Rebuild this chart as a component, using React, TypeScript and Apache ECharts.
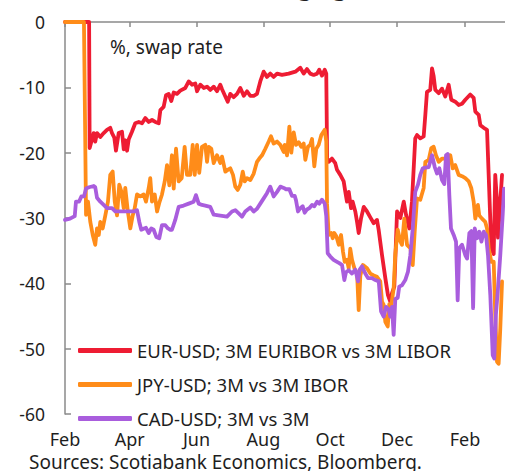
import React, { useEffect, useRef } from "react";
import * as echarts from "echarts";

// x = days since 1 Feb; y = % swap rate
const tickDays = [0, 59, 120, 181, 242, 303, 365];
const tickLabels = ["Feb", "Apr", "Jun", "Aug", "Oct", "Dec", "Feb"];

const seriesNames = [
  "EUR-USD; 3M EURIBOR vs 3M LIBOR",
  "JPY-USD; 3M vs 3M IBOR",
  "CAD-USD; 3M vs 3M",
];

const eurUsd = [
  [0, 0], [22, 0], [22.5, -19.3], [26.2, -17.0], [27.6, -18.3], [29.2, -17.0], [32.2, -17.6], [35.3, -17.0],
  [38.3, -16.5], [41.3, -16.2], [42.9, -17.0], [45, -17.7], [46.5, -19.7], [49, -17.0], [52, -16.8],
  [53.6, -19.5], [55, -18.1], [56.6, -19.7], [58.1, -18.0], [61.1, -16.8], [64.1, -15.5], [67.3, -15.3],
  [70.3, -15.5], [73.3, -14.7], [76.4, -15.3], [79.4, -15.0], [82.4, -15.3], [85.5, -15.5], [87, -13.5],
  [90, -13.0], [92.2, -11.2], [94.6, -11.0], [97, -12.1], [99.2, -10.8], [102.2, -11.0], [105.2, -10.5],
  [109.8, -10.1], [112.9, -9.1], [115.9, -9.6], [118.9, -9.4], [120.5, -10.6], [123.5, -9.6], [126.6, -10.1],
  [129.6, -9.9], [132.6, -10.4], [135.7, -9.9], [138.7, -10.6], [141.7, -9.6], [143.3, -10.3], [146.3, -11.4],
  [148.5, -12.2], [150.8, -11.0], [153.9, -11.5], [157, -11.0], [160, -10.1], [163.1, -11.3], [166.1, -10.6],
  [169.1, -11.3], [172.2, -11.3], [175.2, -11.0], [178.2, -9.1], [181.3, -7.6], [184.3, -8.4], [187.3, -7.9],
  [190.4, -8.4], [193.5, -7.9], [198, -8.1], [204.1, -7.9], [210.2, -7.6], [214.7, -7.0], [217.8, -7.9],
  [220.8, -7.2], [223.8, -7.9], [226.9, -8.1], [230, -7.9], [232, -7.3], [234.5, -8.2], [237, -7.3],
  [238.4, -7.9], [239.2, -20.9], [240.6, -21.4], [243.6, -20.9], [246.6, -21.6], [248.2, -22.6], [251.2, -23.4],
  [254.3, -24.4], [255.8, -26.0], [257.3, -27.5], [258.9, -26.0], [261, -28.5], [262.5, -27.5], [264.9, -29.0],
  [266.5, -30.6], [268, -32.3], [270.1, -30.1], [272.6, -28.3], [275.6, -29.0], [278.6, -29.9], [281.7, -30.8],
  [284.7, -30.3], [286.3, -31.9], [289.3, -35.7], [292.3, -39.2], [294.7, -41.8], [296.8, -42.8], [298.4, -41.5],
  [300.5, -40.5], [303, -29.0], [306, -30.0], [309.1, -27.5], [311.2, -29.5], [314.2, -31.6], [316.6, -27.5],
  [319.6, -17.8], [321.2, -17.3], [324.2, -17.8], [327.3, -17.5], [328.8, -14.2], [330.3, -10.7], [333.3, -10.4],
  [334.9, -7.1], [336.4, -8.3], [337.9, -10.4], [341, -10.9], [344, -10.2], [347, -11.4], [350.1, -9.6],
  [352.5, -11.9], [356.1, -12.2], [359.2, -12.7], [362.3, -12.5], [365.3, -11.9], [369.8, -11.1], [372.9, -11.6],
  [374.4, -13.7], [377.5, -14.2], [379, -15.8], [382.1, -16.2], [385.1, -16.5], [386.6, -23.4], [389, -34.6],
  [391.2, -35.5], [392.6, -23.4], [394.2, -27.5], [395.1, -33.0], [397.2, -27.5], [398.8, -23.4],
];

const jpyUsd = [
  [0, 0], [17.3, 0], [19.2, -29.5], [21, -27.5], [23.1, -30.6], [25.3, -32.6], [27.6, -34.1], [29.2, -31.6],
  [30.8, -32.6], [32.2, -30.6], [34.4, -31.6], [36.8, -29.6], [39.2, -27.5], [41.3, -23.4], [43.5, -22.9],
  [45.4, -27.5], [47.5, -29.6], [49.5, -24.9], [51.4, -25.9], [53.6, -28.5], [55, -25.4], [57.2, -28.8],
  [59.6, -31.6], [61.8, -29.6], [63.6, -28.5], [65.7, -26.4], [68.7, -26.7], [71.8, -26.4], [73.9, -27.5],
  [76.4, -25.4], [77.8, -23.9], [79.4, -27.5], [81.9, -26.4], [84, -29.0], [86, -27.7], [88.5, -26.4],
  [91, -24.4], [93.1, -21.9], [95.2, -25.0], [97.6, -20.4], [99.2, -25.5], [101.3, -19.4], [103.7, -24.4],
  [106.5, -23.9], [109.2, -19.1], [111.3, -23.4], [114.3, -23.4], [116.5, -18.8], [118.4, -23.4], [120.5, -18.8],
  [122.5, -23.1], [125, -19.1], [128, -18.8], [129.6, -21.4], [131.1, -19.1], [133.5, -19.4], [135.7, -21.6],
  [138.7, -20.4], [141.7, -21.6], [143.3, -20.6], [146.3, -22.9], [148.8, -22.6], [150.8, -22.4], [153.3, -23.4],
  [155.4, -25.2], [157.6, -25.7], [160, -24.9], [162.2, -22.9], [164, -24.4], [166.1, -23.9], [169.1, -24.2],
  [172.2, -23.2], [175.2, -21.4], [177.3, -20.9], [179.8, -20.4], [182.8, -19.4], [185.9, -18.3], [188, -17.5],
  [190.4, -18.6], [193.5, -18.3], [196.5, -18.8], [199.6, -19.9], [200.5, -18.8], [202.6, -20.4], [204.7, -16.0],
  [206.5, -20.0], [208.7, -16.9], [210.8, -18.8], [213.3, -18.4], [215.6, -19.1], [217.8, -18.6], [219.3, -21.1],
  [221.7, -19.1], [223.8, -18.8], [225.4, -17.9], [227.5, -22.1], [229.3, -19.4], [231.5, -18.8], [233.9, -17.3],
  [237, -16.5], [238.4, -18.3], [239.1, -27.8], [240.6, -32.6], [243, -32.3], [244.3, -33.1], [245.7, -32.3],
  [247.6, -32.8], [249.8, -34.1], [251.9, -32.6], [253.7, -35.2], [255.2, -36.7], [257.3, -36.4], [258.9, -37.7],
  [260.3, -34.7], [261.9, -36.4], [264.4, -37.9], [266.5, -38.4], [268, -44.1], [269.5, -38.8], [271.9, -37.2],
  [275.6, -37.7], [278.6, -38.5], [281.7, -38.8], [284.7, -39.0], [287.7, -39.7], [289.3, -42.8], [290.8, -43.3],
  [292.3, -45.9], [294.5, -46.6], [295.9, -43.2], [297.8, -43.3], [299.9, -40.8], [301.4, -35.5], [303.6, -31.8],
  [306, -33.6], [307.5, -34.1], [309.6, -30.1], [312.1, -34.1], [315.1, -34.6], [317.3, -37.2], [319.1, -32.1],
  [321.2, -27.0], [324.2, -27.2], [327.3, -25.4], [328.8, -21.4], [331.9, -21.1], [334.2, -19.3], [336.4, -19.1],
  [338.5, -20.4], [341, -21.4], [344, -20.9], [347, -20.9], [349.4, -21.6], [351.6, -20.4], [353.8, -22.4],
  [356.1, -21.9], [359.2, -23.4], [362.3, -23.6], [365.3, -23.9], [368.4, -24.4], [370.7, -25.4], [372.9, -27.5],
  [374.4, -30.1], [376.8, -28.0], [378, -29.6], [380.5, -30.1], [383.5, -30.6], [385.1, -31.6], [386.6, -34.6],
  [389, -36.7], [391.2, -36.7], [392.6, -44.8], [394.2, -52.0], [395.7, -52.3], [397.2, -46.9], [398.8, -39.7],
];

const cadUsd = [
  [0, -30.3], [4.6, -30.1], [8.9, -29.7], [10, -27.5], [12.8, -27.5], [14.9, -26.7], [17.3, -26.7], [19.2, -25.5],
  [21.9, -25.3], [26.2, -25.1], [27.6, -25.3], [29.2, -26.9], [32.2, -27.5], [35.3, -28.0], [38.3, -28.5],
  [42.9, -28.5], [45.9, -29.0], [50.2, -29.0], [54.8, -29.0], [59.6, -29.0], [63, -29.0], [65.7, -28.8],
  [67.8, -30.6], [69.6, -31.8], [72.1, -31.6], [73.9, -31.5], [76.4, -32.3], [78.7, -31.6], [80.9, -31.8],
  [83.3, -32.9], [86, -33.1], [88.5, -31.1], [91.5, -31.1], [94, -31.6], [96.1, -31.8], [97.6, -31.8],
  [100.6, -30.3], [103.7, -28.3], [108.3, -28.1], [112.9, -27.8], [117.4, -27.5], [119.5, -26.5], [122, -27.8],
  [125, -28.0], [128, -28.1], [132.6, -28.3], [135.7, -29.5], [140.2, -29.6], [144.8, -29.7], [147.8, -29.8],
  [152.4, -29.0], [155.4, -28.8], [158.5, -29.3], [161.5, -29.8], [164.5, -29.0], [169.1, -28.4], [172.2, -29.0],
  [175.2, -28.6], [178.2, -27.8], [181.3, -27.0], [184.3, -26.2], [187.3, -25.2], [190.4, -26.7], [193.5, -26.0],
  [196.5, -25.2], [199.6, -25.4], [201.7, -25.6], [204.7, -25.6], [207.1, -26.6], [209.6, -26.6], [210.8, -27.3],
  [212.6, -29.0], [214.7, -28.5], [216.9, -28.2], [218.7, -29.2], [220.8, -28.7], [222.9, -28.5], [225.4, -28.0],
  [227.5, -28.2], [230, -27.5], [232, -27.8], [234.5, -27.2], [237, -27.8], [238.4, -29.7], [239.7, -35.4],
  [242.1, -35.9], [245.1, -36.4], [248.2, -36.7], [250.3, -36.9], [252.8, -37.2], [254.9, -39.5], [256.4, -38.3],
  [258.9, -38.0], [261.9, -38.5], [264.9, -37.9], [267.4, -39.7], [268.9, -37.9], [271, -37.4], [274, -38.5],
  [276.5, -39.2], [280.1, -39.2], [283.2, -39.5], [286.3, -39.7], [288.4, -44.3], [290.8, -45.1], [292.9, -43.6],
  [295.4, -44.0], [296.8, -45.1], [298.4, -43.6], [299.9, -47.9], [301.4, -42.4], [303.6, -42.2], [305, -40.5],
  [307.5, -40.3], [310.5, -39.5], [313, -38.2], [315.1, -35.7], [317.3, -31.6], [319.6, -26.0], [322.1, -24.9],
  [324.2, -23.4], [326.4, -22.4], [328.8, -22.3], [331.9, -22.2], [334.9, -20.4], [337.4, -22.2], [339.5, -23.2],
  [341.6, -22.4], [344, -24.2], [346.1, -24.8], [347.7, -20.4], [349.2, -20.2], [350.7, -26.5], [352.2, -31.6],
  [354.7, -32.6], [356.8, -33.6], [358.3, -42.6], [359.8, -34.6], [362.3, -34.1], [365.3, -35.7], [366.9, -36.2],
  [369, -32.3], [370.8, -32.0], [372.4, -43.8], [373.9, -31.6], [376, -33.1], [378.1, -32.1], [380, -33.6],
  [382.1, -32.1], [384.2, -32.6], [386, -35.7], [388.1, -41.8], [390.3, -51.0], [391.7, -51.5], [393.2, -44.8],
  [395.1, -40.8], [397.2, -35.7], [399.4, -29.5], [400.6, -25.5],
];

const colors = ["#ee1c33", "#ff8c19", "#a95ddd"];
const FONT = "Noto Sans";
const TXT = "#1e1e1e";
const AXIS = "#8a8a8a";

export default function App() {
  const ref = useRef<HTMLDivElement>(null);
  useEffect(() => {
    if (!ref.current) return;
    const chart = echarts.init(ref.current, undefined, { renderer: "svg" });
    const xMin = 0;
    const xMax = 401.5;
    const fmt = (v: number) => {
      const i = tickDays.indexOf(Math.round(v));
      return i >= 0 ? tickLabels[i] : "";
    };
    const datasets = [eurUsd, jpyUsd, cadUsd];
    chart.setOption({
      animation: false,
      grid: { left: 65, right: 0, top: 22, bottom: 57, containLabel: false },
      xAxis: [
        {
          type: "value",
          min: xMin,
          max: xMax,
          position: "bottom",
          axisLine: { show: false, onZero: false },
          axisTick: { show: false },
          splitLine: { show: false },
          axisLabel: {
            customValues: tickDays,
            formatter: fmt,
            margin: 17,
            fontSize: 18,
            lineHeight: 16,
            fontFamily: FONT,
            color: TXT,
            showMinLabel: true,
            showMaxLabel: true,
          },
        },
        {
          type: "value",
          min: xMin,
          max: xMax,
          position: "top",
          axisLine: { show: true, onZero: false, lineStyle: { color: AXIS, width: 1.5 } },
          axisTick: { show: true, inside: true, length: 5, customValues: tickDays, lineStyle: { color: AXIS, width: 1.5 } },
          axisLabel: { show: false },
          splitLine: { show: false },
        },
      ],
      yAxis: {
        type: "value",
        min: -60,
        max: 0,
        interval: 10,
        axisLine: { show: true, onZero: false, lineStyle: { color: AXIS, width: 1.5 } },
        axisTick: { show: true, inside: true, length: 6, lineStyle: { color: AXIS, width: 1.5 } },
        splitLine: { show: false },
        axisLabel: { margin: 20, fontSize: 17.5, fontFamily: FONT, color: TXT },
      },
      legend: {
        orient: "vertical",
        left: 78,
        top: 341,
        padding: 0,
        itemGap: 15,
        itemWidth: 54,
        itemHeight: 5,
        icon: "roundRect",
        textStyle: { fontSize: 18.5, lineHeight: 18.5, fontFamily: FONT, color: TXT, padding: [0, 0, 0, 0] },
        data: seriesNames,
      },
      graphic: [
        {
          type: "text",
          left: 110,
          top: 37,
          style: { text: "%, swap rate", fontSize: 19, fontFamily: FONT, fill: TXT },
        },
        {
          type: "text",
          left: 29,
          top: 452,
          style: { text: "Sources: Scotiabank Economics, Bloomberg.", fontSize: 19, lineHeight: 19, fontFamily: FONT, fill: TXT },
        },
        {
          type: "text",
          x: 347,
          y: -2,
          style: {
            text: "Hedging",
            fontSize: 22,
            fontWeight: "bold",
            fontFamily: FONT,
            fill: TXT,
            align: "right",
            verticalAlign: "bottom",
          },
        },
      ],
      series: seriesNames.map((name, i) => ({
        name,
        type: "line",
        xAxisIndex: 0,
        data: datasets[i],
        showSymbol: false,
        symbol: "none",
        color: colors[i],
        lineStyle: { width: 3.8, color: colors[i], cap: "round", join: "round" },
        z: 2 + i,
      })),
    });
    return () => chart.dispose();
  }, []);
  return <div ref={ref} style={{ position: "absolute", left: 0, top: 0, width: 505, height: 471 }} />;
}
